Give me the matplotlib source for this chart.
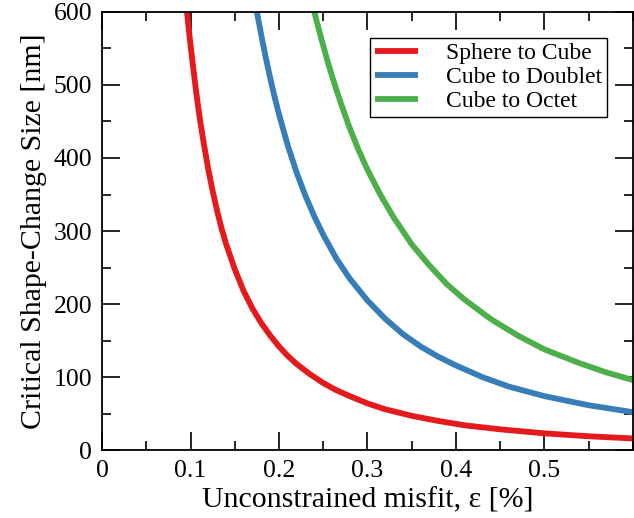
import matplotlib
matplotlib.use('Agg')
import matplotlib.pyplot as plt
from matplotlib.ticker import MultipleLocator, FuncFormatter

plt.rcParams['font.family'] = ['Liberation Serif', 'DejaVu Serif']

# values
sphere_x = [0.096, 0.098, 0.100, 0.102, 0.105, 0.108, 0.111, 0.115, 0.12, 0.125, 0.13, 0.135,
            0.14, 0.15, 0.16, 0.17, 0.18, 0.19, 0.20, 0.21, 0.22, 0.235, 0.25, 0.265, 0.28,
            0.30, 0.32, 0.35, 0.38, 0.41, 0.45, 0.50, 0.55, 0.60]
sphere_y = [600, 577, 555, 534, 504, 476, 450, 420, 385, 355, 328, 304,
            283, 248, 218, 194, 174, 157, 142, 129, 118, 104, 92, 82, 74,
            64, 56, 47, 40, 34, 28.5, 23, 19, 16]

doublet_x = [0.175, 0.178, 0.181, 0.185, 0.19, 0.195, 0.20, 0.21, 0.22, 0.23, 0.24, 0.25,
             0.265, 0.28, 0.30, 0.32, 0.34, 0.36, 0.38, 0.40, 0.43, 0.46, 0.50, 0.55, 0.60]
doublet_y = [600, 581, 562, 538, 510, 484, 460, 417, 380, 348, 320, 295,
             262, 235, 205, 180, 159, 142, 128, 116, 100, 87, 74, 61.5, 52]

octet_x = [0.240, 0.244, 0.248, 0.253, 0.258, 0.264, 0.27, 0.28, 0.29, 0.30, 0.315, 0.33,
           0.35, 0.37, 0.39, 0.41, 0.44, 0.47, 0.50, 0.54, 0.57, 0.60]
octet_y = [600, 581, 563, 541, 520, 497, 475, 441, 411, 384, 349, 318,
           282, 253, 227, 206, 179, 157, 138, 119, 106.5, 96]

labels = ['Sphere to Cube', 'Cube to Doublet', 'Cube to Octet']
colours = ['#e41a1c', '#377eb8', '#4daf4a']

fig = plt.figure(figsize=(6.34, 5.18), dpi=100)
ax = fig.add_axes([0.161, 0.131, 0.837, 0.846])

for xs, ys, lab, c in zip([sphere_x, doublet_x, octet_x], [sphere_y, doublet_y, octet_y], labels, colours):
    ax.plot(xs, ys, color=c, lw=4.2, label=lab, solid_capstyle='butt', solid_joinstyle='round')

ax.set_xlim(0, 0.6)
ax.set_ylim(0, 600)
ax.set_xticks([0, 0.1, 0.2, 0.3, 0.4, 0.5])
ax.xaxis.set_minor_locator(MultipleLocator(0.05))
ax.yaxis.set_major_locator(MultipleLocator(100))
ax.yaxis.set_minor_locator(MultipleLocator(50))
ax.xaxis.set_major_formatter(FuncFormatter(lambda v, p: '0' if v == 0 else f'{v:g}'))

ax.tick_params(which='both', direction='in', top=True, right=True, labelsize=18.5, width=1.2)
ax.tick_params(which='major', length=13, pad=7)
ax.tick_params(which='minor', length=6.5)
for s in ax.spines.values():
    s.set_linewidth(1.3)

ax.set_xlabel('Unconstrained misfit, ε [%]', fontsize=21.5, labelpad=4)
ax.set_ylabel('Critical Shape-Change Size [nm]', fontsize=21.5, labelpad=5)

leg = ax.legend(loc='upper right', fontsize=17, handlelength=1.8, handletextpad=1.2,
                fancybox=False, edgecolor='black', framealpha=1, borderaxespad=1.1,
                labelspacing=0.1, borderpad=0.2)
leg.get_frame().set_linewidth(1.0)

plt.savefig('out.png', dpi=100)
